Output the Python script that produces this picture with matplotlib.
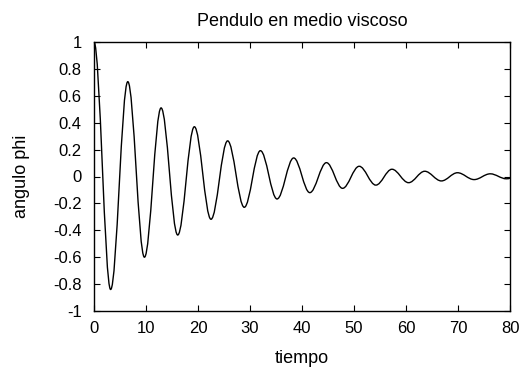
import matplotlib
matplotlib.use("Agg")
import matplotlib.pyplot as plt
from matplotlib.path import Path
from matplotlib.patches import PathPatch

# extrema of the curve (time, angle)
peak_t = [0.0, 3.2, 6.5, 9.7, 12.9, 16.1, 19.3, 22.5, 25.7, 28.9, 32.0, 35.2,
          38.4, 41.5, 44.7, 47.8, 51.0, 54.2, 57.3, 60.5, 63.6, 66.8, 69.9,
          73.1, 76.2, 79.3, 82.4]
peak_phi = [1.0, -0.84, 0.705, -0.60, 0.51, -0.435, 0.37, -0.318, 0.265,
            -0.229, 0.192, -0.167, 0.138, -0.12, 0.103, -0.088, 0.076, -0.064,
            0.054, -0.046, 0.039, -0.033, 0.028, -0.023, 0.02, -0.017, 0.015]

xticks = [0, 10, 20, 30, 40, 50, 60, 70, 80]
yticks = [-1, -0.8, -0.6, -0.4, -0.2, 0, 0.2, 0.4, 0.6, 0.8, 1]
ytick_labels = ["-1", "-0.8", "-0.6", "-0.4", "-0.2", "0", "0.2", "0.4",
                "0.6", "0.8", "1"]

plt.rcParams['font.family'] = ['Liberation Sans', 'DejaVu Sans']
fs_tick = 12
fs_label = 13

fig = plt.figure(figsize=(5.24, 3.69), dpi=100)
ax = fig.add_axes([94 / 524, 1 - 311 / 369, 416 / 524, 269 / 369])

# smooth curve through the extrema using cubic bezier segments
verts = [(peak_t[0], peak_phi[0])]
codes = [Path.MOVETO]
k = 0.36
for i in range(len(peak_t) - 1):
    t0, t1 = peak_t[i], peak_t[i + 1]
    a0, a1 = peak_phi[i], peak_phi[i + 1]
    dt = t1 - t0
    verts += [(t0 + k * dt, a0), (t1 - k * dt, a1), (t1, a1)]
    codes += [Path.CURVE4] * 3
patch = PathPatch(Path(verts, codes), facecolor='none', edgecolor='black',
                  linewidth=1.0, transform=ax.transData)
ax.add_patch(patch)

ax.set_xlim(0, 80)
ax.set_ylim(-1, 1)
ax.set_xticks(xticks)
ax.set_yticks(yticks)
ax.set_yticklabels(ytick_labels)
ax.tick_params(direction='in', length=4, width=0.8, top=True, right=True,
               labelsize=fs_tick)
ax.tick_params(axis='y', pad=9)
ax.tick_params(axis='x', pad=7.5)
for s in ax.spines.values():
    s.set_linewidth(1.0)

ax.set_title("Pendulo en medio viscoso", fontsize=fs_label, pad=11.5)
ax.set_xlabel("tiempo", fontsize=fs_label, labelpad=9.5)
ax.set_ylabel("angulo phi", fontsize=fs_label, labelpad=16.5)

fig.savefig("out.png", dpi=100)
